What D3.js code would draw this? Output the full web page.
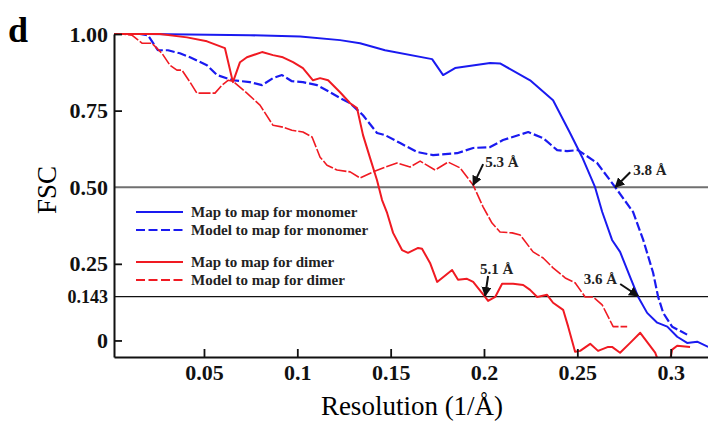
<!DOCTYPE html>
<html>
<head>
<meta charset="utf-8">
<script src="https://cdn.jsdelivr.net/npm/d3@7"></script>
<style>
  body { margin: 0; background: #fff; }
  svg { display: block; }
</style>
</head>
<body>
<svg class="fscSVG" width="708" height="424"></svg>
<script>
// FSC curves: [resolution (1/Å), FSC]
const monoMapMap = [
  [0.0018, 1.0], [0.02, 1.0], [0.0746, 0.996], [0.1015, 0.992], [0.1229, 0.980],
  [0.1336, 0.970], [0.147, 0.947], [0.1722, 0.918], [0.1781, 0.866], [0.1845, 0.889],
  [0.2033, 0.905], [0.2086, 0.904], [0.2247, 0.849], [0.237, 0.784], [0.2461, 0.677],
  [0.2526, 0.598], [0.2595, 0.5], [0.2633, 0.42], [0.2686, 0.328], [0.2729, 0.289],
  [0.2783, 0.207], [0.2826, 0.142], [0.2874, 0.09], [0.2928, 0.058], [0.2982, 0.045],
  [0.3035, 0.012], [0.3088, -0.008], [0.3142, -0.004], [0.3201, -0.021]
];
const monoModelMap = [
  [0.0018, 1.0], [0.0157, 1.0], [0.02, 0.996], [0.0253, 0.947], [0.0307, 0.947],
  [0.0371, 0.937], [0.0425, 0.924], [0.0516, 0.898], [0.057, 0.866], [0.0655, 0.849],
  [0.0746, 0.843], [0.0811, 0.833], [0.087, 0.856], [0.0918, 0.866], [0.0971, 0.846],
  [0.103, 0.843], [0.1106, 0.833], [0.1175, 0.81], [0.1229, 0.791], [0.1283, 0.774],
  [0.1352, 0.735], [0.1427, 0.677], [0.147, 0.67], [0.1551, 0.644], [0.1641, 0.615],
  [0.1727, 0.605], [0.1856, 0.611], [0.1942, 0.628], [0.2033, 0.631], [0.2102, 0.654],
  [0.2237, 0.68], [0.2317, 0.66], [0.2392, 0.621], [0.2445, 0.618], [0.2504, 0.621],
  [0.2606, 0.579], [0.2703, 0.5], [0.2799, 0.419], [0.2853, 0.328], [0.2906, 0.221],
  [0.2933, 0.142], [0.296, 0.09], [0.3008, 0.045], [0.3088, 0.019]
];
const dimerMapMap = [
  [0.0018, 1.0], [0.0103, 1.0], [0.0264, 1.0], [0.0409, 0.989], [0.0516, 0.976],
  [0.0612, 0.954], [0.0655, 0.843], [0.0693, 0.908], [0.073, 0.924], [0.0811, 0.941],
  [0.087, 0.931], [0.0923, 0.924], [0.0977, 0.908], [0.103, 0.889], [0.1084, 0.849],
  [0.1122, 0.856], [0.1165, 0.849], [0.1229, 0.81], [0.1283, 0.774], [0.132, 0.758],
  [0.1352, 0.67], [0.139, 0.595], [0.1427, 0.523], [0.1454, 0.458], [0.1481, 0.416],
  [0.1513, 0.351], [0.1561, 0.295], [0.1593, 0.286], [0.1647, 0.302], [0.1668, 0.299],
  [0.1711, 0.253], [0.1749, 0.191], [0.1829, 0.23], [0.1861, 0.198], [0.1909, 0.201],
  [0.1942, 0.191], [0.2006, 0.142], [0.2022, 0.129], [0.206, 0.142], [0.2097, 0.185],
  [0.2156, 0.185], [0.221, 0.181], [0.2247, 0.165], [0.2285, 0.142], [0.2338, 0.149],
  [0.237, 0.123], [0.2424, 0.1], [0.2451, 0.045], [0.2488, -0.037], [0.2515, -0.034],
  [0.2569, -0.011], [0.2611, -0.034], [0.2665, -0.021], [0.2686, -0.021], [0.2729, -0.04],
  [0.2783, -0.008], [0.2837, 0.025], [0.2917, -0.04], [0.2955, -0.1], [0.2985, -0.1],
  [0.3008, -0.03], [0.3035, -0.017], [0.3104, -0.021]
];
const dimerModelMap = [
  [0.0018, 1.0], [0.006, 1.0], [0.0114, 0.996], [0.0168, 0.97], [0.0221, 0.97],
  [0.0275, 0.937], [0.0318, 0.898], [0.0355, 0.882], [0.0382, 0.882], [0.0425, 0.843],
  [0.0462, 0.807], [0.0516, 0.807], [0.0559, 0.807], [0.0596, 0.833], [0.0629, 0.849],
  [0.0655, 0.846], [0.073, 0.807], [0.08, 0.768], [0.087, 0.702], [0.0923, 0.696],
  [0.0971, 0.686], [0.103, 0.68], [0.1079, 0.664], [0.1122, 0.598], [0.1159, 0.572],
  [0.1213, 0.556], [0.1283, 0.55], [0.1336, 0.53], [0.1406, 0.55], [0.1459, 0.563],
  [0.1534, 0.579], [0.1604, 0.566], [0.1658, 0.585], [0.1738, 0.556], [0.1808, 0.582],
  [0.1872, 0.563], [0.1942, 0.507], [0.1995, 0.436], [0.2043, 0.383], [0.2086, 0.354],
  [0.2151, 0.351], [0.2194, 0.344], [0.2263, 0.289], [0.2317, 0.269], [0.237, 0.237],
  [0.2435, 0.204], [0.2488, 0.188], [0.2542, 0.142], [0.2585, 0.142], [0.2633, 0.116],
  [0.2692, 0.045], [0.2767, 0.045]
];

const xTicks = [0.05, 0.1, 0.15, 0.2, 0.25, 0.3];
const xTickLabels = ['0.05', '0.1', '0.15', '0.2', '0.25', '0.3'];
const yTicks = [0, 0.143, 0.25, 0.5, 0.75, 1];
const yTickLabels = ['0', '0.143', '0.25', '0.50', '0.75', '1.00'];
const thresholds = [0.5, 0.143];
const legendNames = [
  'Map to map for monomer', 'Model to map for monomer',
  'Map to map for dimer', 'Model to map for dimer'
];
const callouts = [
  {label: '5.3 Å', x: 0.1942, y: 0.507},
  {label: '3.8 Å', x: 0.2703, y: 0.5},
  {label: '5.1 Å', x: 0.2006, y: 0.145},
  {label: '3.6 Å', x: 0.2826, y: 0.145}
];

function drawFSC(){
  const svg = d3.select('svg.fscSVG');
  const serif = "'Liberation Serif', 'Times New Roman', serif";
  const blue = '#1a1af0';
  const red = '#f01a22';

  const x = d3.scaleLinear().domain([0.0018, 0.32]).range([114, 708]);
  const y = d3.scaleLinear().domain([-0.054, 1]).range([357, 34]);

  // panel letter
  svg.append('text')
    .text('d')
    .attr('x', 8).attr('y', 42)
    .style('font-family', serif)
    .style('font-weight', 'bold')
    .style('font-size', '36px');

  // threshold lines
  svg.selectAll('line.thresh')
    .data(thresholds)
    .enter()
    .append('line')
    .attr('class', 'thresh')
    .attr('x1', x.range()[0]).attr('x2', x.range()[1])
    .attr('y1', d => y(d)).attr('y2', d => y(d))
    .style('stroke', d => d === 0.5 ? '#707070' : '#111')
    .style('stroke-width', d => d === 0.5 ? 1.8 : 1.2);

  svg.append('clipPath')
    .attr('id', 'plotClip')
    .append('rect')
    .attr('x', 114).attr('y', 30)
    .attr('width', 594).attr('height', 327);

  const line = d3.line()
    .x(d => x(d[0]))
    .y(d => y(d[1]));

  const series = [
    {data: monoMapMap, color: blue, dash: null, width: 2},
    {data: monoModelMap, color: blue, dash: '9,3', width: 2.2},
    {data: dimerMapMap, color: red, dash: null, width: 2},
    {data: dimerModelMap, color: red, dash: '12,2', width: 1.6}
  ];

  svg.append('g')
    .attr('clip-path', 'url(#plotClip)')
    .selectAll('path')
    .data(series)
    .enter()
    .append('path')
    .attr('d', d => line(d.data))
    .style('fill', 'none')
    .style('stroke', d => d.color)
    .style('stroke-width', d => d.width)
    .style('stroke-dasharray', d => d.dash)
    .style('stroke-linejoin', 'round');

  // axes with inward ticks
  const yAxis = d3.axisLeft(y)
    .tickValues(yTicks)
    .tickFormat((d, i) => yTickLabels[i])
    .tickSizeInner(-8).tickSizeOuter(0)
    .tickPadding(6);
  const gy = svg.append('g')
    .attr('transform', 'translate(114,0)')
    .call(yAxis);

  const xAxis = d3.axisBottom(x)
    .tickValues(xTicks)
    .tickFormat((d, i) => xTickLabels[i])
    .tickSizeInner(-8).tickSizeOuter(0)
    .tickPadding(7);
  const gx = svg.append('g')
    .attr('transform', 'translate(0,357)')
    .call(xAxis);

  [gx, gy].forEach(g => {
    g.select('.domain').style('stroke', '#111').style('stroke-width', 2);
    g.selectAll('.tick line').style('stroke', '#111').style('stroke-width', 1.8);
    g.selectAll('.tick text')
      .style('font-family', serif)
      .style('font-weight', 'bold')
      .style('font-size', '22px')
      .style('fill', '#111');
  });
  gy.selectAll('.tick text')
    .filter(d => d === 0.143)
    .style('font-size', '18px');
  gy.selectAll('.tick line')
    .filter(d => d === 0.5 || d === 0.143)
    .remove();

  // axis titles
  svg.append('text')
    .text('FSC')
    .attr('transform', 'translate(56,190) rotate(-90)')
    .style('text-anchor', 'middle')
    .style('font-family', serif)
    .style('font-size', '27px');

  svg.append('text')
    .text('Resolution (1/Å)')
    .attr('x', 412).attr('y', 415)
    .style('text-anchor', 'middle')
    .style('font-family', serif)
    .style('font-size', '27px');

  // legend
  const legendY = [212, 230, 262, 280];
  const legend = svg.append('g').attr('class', 'legend');
  legendNames.forEach((name, i) => {
    const s = series[i];
    legend.append('line')
      .attr('x1', 136).attr('x2', 183)
      .attr('y1', legendY[i]).attr('y2', legendY[i])
      .style('stroke', s.color)
      .style('stroke-width', 2.2)
      .style('stroke-dasharray', s.dash ? '9,3.5' : null);
    legend.append('text')
      .text(name)
      .attr('x', 191).attr('y', legendY[i] + 5)
      .style('font-family', serif)
      .style('font-weight', 'bold')
      .style('font-size', '15px')
      .style('fill', '#222');
  });

  // callout arrows
  svg.append('defs').append('marker')
    .attr('id', 'arrowHead')
    .attr('viewBox', '0 0 10 10')
    .attr('refX', 9).attr('refY', 5)
    .attr('markerWidth', 5).attr('markerHeight', 5)
    .attr('orient', 'auto')
    .append('path')
    .attr('d', 'M0,0L10,5L0,10Z')
    .style('fill', '#111');

  const offsets = [
    {from: [10, -21], text: [12, -18], anchor: 'start'},
    {from: [15, -15], text: [18, -12], anchor: 'start'},
    {from: [3, -20], text: [-5, -22], anchor: 'start'},
    {from: [-18, -12], text: [-21, -12], anchor: 'end'}
  ];

  callouts.forEach((c, i) => {
    const o = offsets[i];
    const tx = x(c.x), ty = y(c.y);
    svg.append('line')
      .attr('x1', tx + o.from[0]).attr('y1', ty + o.from[1])
      .attr('x2', tx).attr('y2', ty)
      .attr('marker-end', 'url(#arrowHead)')
      .style('stroke', '#111')
      .style('stroke-width', 2);
    svg.append('text')
      .text(c.label)
      .attr('x', tx + o.text[0]).attr('y', ty + o.text[1])
      .style('text-anchor', o.anchor)
      .style('font-family', serif)
      .style('font-weight', 'bold')
      .style('font-size', '15px')
      .style('fill', '#222');
  });
}

drawFSC();
</script>
</body>
</html>
